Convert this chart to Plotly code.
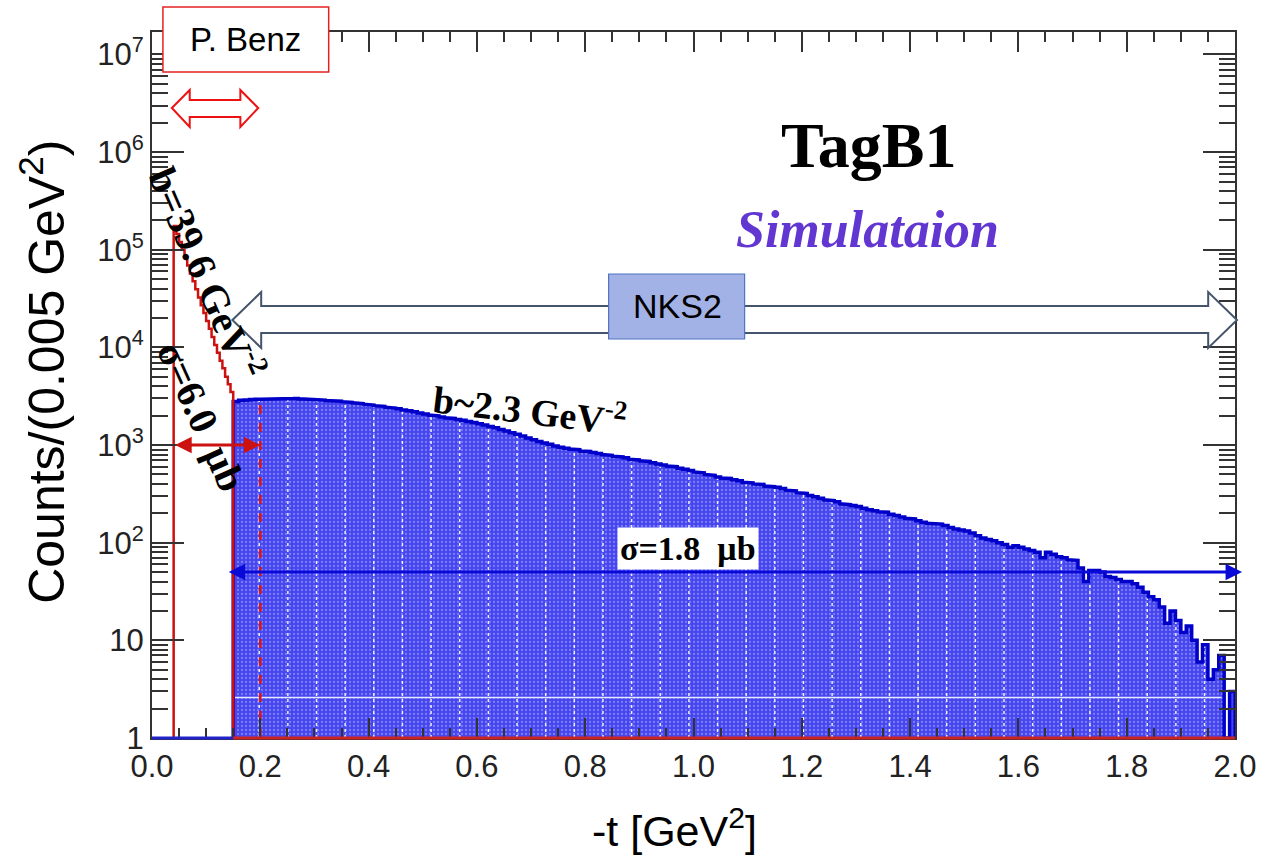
import plotly.graph_objects as go

# ---------------------------------------------------------------------------
# Histogram contents
# ---------------------------------------------------------------------------
# NKS2 acceptance region: bins of 0.01 GeV^2 starting at -t = 0.15
nks2_start = 0.15
nks2_bin = 0.01
nks2_counts = [
    2800, 2870, 2900, 2930, 2950, 2960, 2980, 3000, 2990, 3010,   # 0.15-0.24
    3000, 2990, 2970, 2960, 2940, 2920, 2890, 2860, 2840, 2810,   # 0.25-0.34
    2780, 2740, 2710, 2660, 2620, 2570, 2530, 2490, 2440, 2390,   # 0.35-0.44
    2350, 2290, 2240, 2190, 2130, 2080, 2030, 1990, 1940, 1900,   # 0.45-0.54
    1870, 1830, 1790, 1740, 1700, 1650, 1600, 1550, 1500, 1440,   # 0.55-0.64
    1390, 1340, 1290, 1240, 1180, 1130, 1090, 1050, 1020, 980,    # 0.65-0.74
    950, 930, 910, 895, 870, 860, 840, 820, 800, 785,             # 0.75-0.84
    770, 755, 740, 715, 705, 690, 680, 660, 640, 625,             # 0.85-0.94
    610, 600, 580, 565, 550, 530, 520, 500, 490, 470,             # 0.95-1.04
    460, 455, 440, 430, 415, 410, 400, 395, 380, 375,             # 1.05-1.14
    370, 360, 345, 340, 325, 320, 305, 295, 285, 275,             # 1.15-1.24
    270, 262, 250, 245, 240, 235, 225, 218, 212, 207,             # 1.25-1.34
    205, 196, 190, 183, 178, 175, 168, 162, 158, 157,             # 1.35-1.44
    155, 150, 143, 138, 135, 132, 126, 118, 112, 108,             # 1.45-1.54
    105, 100, 96, 90, 93, 90, 86, 83, 80, 70,                     # 1.55-1.64
    80, 76, 72, 70, 67, 66, 55, 40, 52, 52,                       # 1.65-1.74
    50, 45, 44, 42, 40, 40, 38, 35, 31, 28,                       # 1.75-1.84
    26, 22, 15, 20, 16, 12, 14, 10, 6, 9,                         # 1.85-1.94
    4, 5, 7, 1, 3,                                                # 1.95-1.99
]

# Forward peak (P. Benz): bins of 0.005 GeV^2 starting at -t = 0.04
benz_start = 0.04
benz_bin = 0.005
benz_counts = [
    175000, 145000, 120000, 100000, 83000, 69000, 57000, 47500,
    39500, 32500, 27000, 22500, 18600, 15500, 12800, 10600,
    8800, 7300, 6100, 5000, 4200, 3500,
]

# Axis ticks
x_tick_vals = [0.0, 0.2, 0.4, 0.6, 0.8, 1.0, 1.2, 1.4, 1.6, 1.8, 2.0]
x_tick_text = ["0.0", "0.2", "0.4", "0.6", "0.8", "1.0", "1.2", "1.4", "1.6", "1.8", "2.0"]
y_tick_vals = [1, 10, 1e2, 1e3, 1e4, 1e5, 1e6, 1e7]
y_tick_text = ["1", "10", "10<sup>2</sup>", "10<sup>3</sup>", "10<sup>4</sup>",
               "10<sup>5</sup>", "10<sup>6</sup>", "10<sup>7</sup>"]

# Bands marked with double arrows
benz_band = (0.04, 0.20)       # sigma = 6.0 ub region
nks2_band = (0.139, 2.013)     # sigma = 1.8 ub region
benz_arrow_level = 1000
nks2_arrow_level = 50
dashed_cut = 0.20

# ---------------------------------------------------------------------------
# Figure geometry helpers (figure pixels -> paper coordinates)
# ---------------------------------------------------------------------------
W, H = 1269, 858
ML, MR, MT, MB = 152, 26, 32, 120
PW, PH = W - ML - MR, H - MT - MB


def px(x):
    return (x - ML) / PW


def py(y):
    return (H - MB - y) / PH


def poly_path(points):
    return "M " + " L ".join(f"{px(a):.5f},{py(b):.5f}" for a, b in points) + " Z"


def step_outline(start, width, counts, floor=1.0):
    xs, ys = [start], [floor]
    for i, c in enumerate(counts):
        x0 = round(start + i * width, 6)
        x1 = round(start + (i + 1) * width, 6)
        xs += [x0, x1]
        ys += [c, c]
    xs.append(round(start + len(counts) * width, 6))
    ys.append(floor)
    return xs, ys


def value_at(x, start, width, counts):
    i = int((x - start) / width)
    if 0 <= i < len(counts):
        return counts[i]
    return 1.0


fig = go.Figure()

# Filled NKS2 histogram
bx, by = step_outline(nks2_start, nks2_bin, nks2_counts)
fig.add_trace(go.Scatter(
    x=bx, y=by, mode="lines", fill="toself",
    fillcolor="#4848f0",
    fillpattern=dict(shape=".", bgcolor="#4646f0", fgcolor="#b4b4ff", size=4, solidity=0.25),
    line=dict(width=0), hoverinfo="skip",
))

# White dotted stripes inside the filled area
stripe_x, stripe_y = [], []
for k in range(34):
    xs = 0.198 + 0.0529 * k
    top = value_at(xs, nks2_start, nks2_bin, nks2_counts)
    if top > 1:
        stripe_x += [xs, xs, None]
        stripe_y += [1, top * 0.97, None]
fig.add_trace(go.Scatter(
    x=stripe_x, y=stripe_y, mode="lines",
    line=dict(color="rgba(255,255,255,0.9)", width=1.5, dash="dot"), hoverinfo="skip",
))
fig.add_trace(go.Scatter(
    x=[nks2_start, 1.975], y=[2.6, 2.6], mode="lines",
    line=dict(color="rgba(255,255,255,0.85)", width=1.5), hoverinfo="skip",
))

# NKS2 histogram outline
fig.add_trace(go.Scatter(
    x=bx, y=by, mode="lines", line=dict(color="#0000c8", width=3.5),
    hoverinfo="skip",
))

# Forward-peak histogram outline
rx, ry = step_outline(benz_start, benz_bin, benz_counts)
fig.add_trace(go.Scatter(
    x=rx, y=ry, mode="lines", line=dict(color="#cc1111", width=2.5), hoverinfo="skip",
))

# Dashed cut line at -t = 0.2
fig.add_trace(go.Scatter(
    x=[dashed_cut, dashed_cut],
    y=[1, value_at(dashed_cut, nks2_start, nks2_bin, nks2_counts)],
    mode="lines", line=dict(color="#dd1111", width=2.5, dash="dash"), hoverinfo="skip",
))

shapes = [
    # baselines of the two histograms
    dict(type="line", xref="x", yref="paper", x0=0, x1=nks2_start, y0=0, y1=0,
         line=dict(color="#2222cc", width=3), layer="above"),
    dict(type="line", xref="x", yref="paper", x0=nks2_start, x1=2.0, y0=0, y1=0,
         line=dict(color="#cc2222", width=3), layer="above"),
    # hollow NKS2 range arrow
    dict(type="path", xref="paper", yref="paper", layer="above",
         path=poly_path([(233, 320), (262, 292), (262, 306), (1216, 306), (1216, 292),
                         (1245, 320), (1216, 348), (1216, 333), (262, 333), (262, 348)]),
         line=dict(color="#44546a", width=2), fillcolor="white"),
    dict(type="rect", xref="paper", yref="paper", layer="above",
         x0=px(612), x1=px(749), y0=py(339), y1=py(274),
         line=dict(color="#4f74c4", width=1.2), fillcolor="#a3b2e6"),
    # hollow P. Benz range arrow
    dict(type="path", xref="paper", yref="paper", layer="above",
         path=poly_path([(172, 108), (190, 90), (190, 100), (241, 100), (241, 90),
                         (259, 108), (241, 127), (241, 117), (190, 117), (190, 127)]),
         line=dict(color="#ee1111", width=2), fillcolor="white"),
    dict(type="rect", xref="paper", yref="paper", layer="above",
         x0=px(163), x1=px(330), y0=py(72), y1=py(7),
         line=dict(color="#e52222", width=1.5), fillcolor="white"),
]

serif = "Liberation Serif"
sans = "Liberation Sans"


def label(text, x, y, size, family=serif, color="black", angle=0, **kw):
    return dict(text=text, xref="paper", yref="paper", x=px(x), y=py(y),
                xanchor="center", yanchor="middle", showarrow=False, textangle=angle,
                font=dict(family=family, size=size, color=color), **kw)


annotations = [
    label("P. Benz", 246, 40, 33, family=sans),
    label("NKS2", 681, 306, 34, family=sans),
    label("<b>TagB1</b>", 874, 146, 64),
    label("<b><i>Simulataion</i></b>", 873, 230, 52, color="#6236d0"),
    label("<b>b=39.6 GeV<sup>-2</sup></b>", 208, 272, 40, angle=66.6),
    label("<b>\u03c3=6.0\u00a0\u00a0\u03bcb</b>", 202, 416, 40, angle=65.6),
    label("<b>b~2.3 GeV<sup>-2</sup></b>", 533, 408, 38, angle=7),
    label("<b>\u03c3=1.8\u00a0\u00a0\u03bcb</b>", 692, 548, 34, bgcolor="white", borderpad=2),
    label("Counts/(0.005 GeV<sup>2</sup>)", 42, 372, 50, family=sans, angle=-90),
    label("-t [GeV<sup>2</sup>]", 678, 828, 43, family=sans),
    # sigma range arrows (data coordinates; log axis uses log10 values)
    dict(x=benz_band[1], y=3, ax=benz_band[0], ay=3, xref="x", yref="y",
         axref="x", ayref="y", text="", showarrow=True, arrowside="end+start",
         arrowhead=2, arrowsize=1.1, arrowwidth=3, arrowcolor="#cc1111"),
    dict(x=nks2_band[1], y=1.699, ax=nks2_band[0], ay=1.699, xref="x", yref="y",
         axref="x", ayref="y", text="", showarrow=True, arrowside="end+start",
         arrowhead=2, arrowsize=1.1, arrowwidth=3, arrowcolor="#0a0ad8"),
]

minor_y = [m * 10 ** d for d in range(8) for m in range(2, 10) if m * 10 ** d < 1.7e7]

tick_font = dict(family=sans, size=31, color="#222")

fig.update_layout(
    width=W, height=H,
    margin=dict(l=ML, r=MR, t=MT, b=MB),
    paper_bgcolor="white", plot_bgcolor="white",
    showlegend=False,
    shapes=shapes,
    annotations=annotations,
    xaxis=dict(
        range=[0, 2], tickmode="array", tickvals=x_tick_vals, ticktext=x_tick_text,
        ticks="inside", ticklen=20, tickwidth=1.5, tickcolor="#333",
        showline=True, linecolor="#333", linewidth=2, mirror="ticks",
        showgrid=False, zeroline=False, tickfont=tick_font,
        minor=dict(tickmode="linear", tick0=0, dtick=0.05, ticks="inside",
                   ticklen=10, tickwidth=1.5, tickcolor="#333", showgrid=False),
    ),
    yaxis=dict(
        type="log", range=[0, 7.23], tickmode="array", tickvals=y_tick_vals,
        ticktext=y_tick_text, ticks="inside", ticklen=32, tickwidth=1.5, tickcolor="#333",
        showline=True, linecolor="#333", linewidth=2, mirror="ticks",
        showgrid=False, zeroline=False, tickfont=tick_font,
        minor=dict(tickmode="array", tickvals=minor_y, ticks="inside",
                   ticklen=16, tickwidth=1.5, tickcolor="#333", showgrid=False),
    ),
)

fig.write_html("out.html")
